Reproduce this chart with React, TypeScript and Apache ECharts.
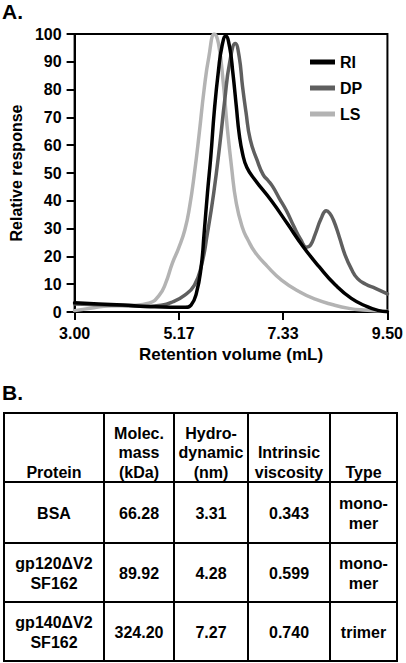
import React, { useEffect, useRef } from "react";
import * as echarts from "echarts";

// ---- Chart A data (retention volume in mL, relative response) ----
const riVolume = [3.0, 3.5, 4.0, 4.5, 5.0, 5.3, 5.42, 5.53, 5.63, 5.69, 5.76, 5.83, 5.905, 5.99, 6.06, 6.14, 6.22, 6.29, 6.36, 6.42, 6.49, 6.58, 6.75, 7.09, 7.42, 7.75, 8.08, 8.42, 8.75, 9.08, 9.3, 9.5];
const riResponse = [3.3, 2.9, 2.5, 2.0, 1.7, 1.7, 2.5, 6.7, 16.3, 28, 42.7, 55.9, 72.7, 87, 95.4, 99.3, 95.4, 85.8, 74, 64, 57, 52, 47.5, 40, 31.8, 23.5, 16.3, 9.7, 4.9, 1.9, 0.6, 0.1];

const dpVolume = [3.0, 3.5, 4.0, 4.5, 4.8, 5.03, 5.29, 5.49, 5.63, 5.76, 5.89, 6.02, 6.12, 6.22, 6.34, 6.42, 6.49, 6.56, 6.65, 6.79, 6.92, 7.02, 7.12, 7.25, 7.4, 7.55, 7.7, 7.82, 7.9, 8.0, 8.12, 8.23, 8.3, 8.38, 8.5, 8.62, 8.75, 8.88, 9.05, 9.25, 9.5];
const dpResponse = [2.9, 2.6, 2.3, 2.0, 2.4, 3.6, 6.1, 9.7, 16.3, 28.3, 42.7, 60.7, 76.3, 89.5, 96.6, 91.8, 81, 72, 62, 54.7, 49.3, 47.3, 45, 41, 36.5, 31, 26, 23.3, 24, 28, 33.5, 36.4, 35.5, 33, 27, 20.5, 15.5, 12, 10, 8.5, 6.5];

const lsVolume = [3.0, 3.4, 3.7, 4.2, 4.56, 4.76, 4.89, 5.03, 5.16, 5.29, 5.39, 5.49, 5.59, 5.69, 5.79, 5.905, 5.99, 6.09, 6.17, 6.26, 6.36, 6.49, 6.6, 6.75, 7.0, 7.3, 7.7, 8.0, 8.35, 8.7, 9.0, 9.5];
const lsResponse = [0.5, 1.5, 2.2, 2.4, 3.3, 6.1, 10.3, 17.5, 22.9, 29.5, 37.9, 49.9, 64.3, 79.9, 91.8, 100, 96.6, 82.3, 66.7, 52.3, 39.1, 30.2, 26, 21.5, 16.5, 11.5, 7, 4.6, 2.7, 1.3, 0.7, 0.3];

const xTickValues = [3, 5.17, 7.33, 9.5];
const seriesNames = ["RI", "DP", "LS"];

// ---- Table B data ----
const headerLabels = [["Protein"], ["Molec.", "mass", "(kDa)"], ["Hydro-", "dynamic", "(nm)"], ["Intrinsic", "viscosity"], ["Type"]];
const proteins = [["BSA"], ["gp120\u0394V2", "SF162"], ["gp140\u0394V2", "SF162"]];
const masses = ["66.28", "89.92", "324.20"];
const hydrodynamic = ["3.31", "4.28", "7.27"];
const viscosities = ["0.343", "0.599", "0.740"];
const types = [["mono-", "mer"], ["mono-", "mer"], ["trimer"]];

const FONT = '"Liberation Sans", Arial, Helvetica, sans-serif';

function pairs(xs: number[], ys: number[]) {
  return xs.map((x, i) => [x, ys[i]]);
}

export default function App() {
  const ref = useRef<HTMLDivElement>(null);
  useEffect(() => {
    document.body.style.margin = "0";
    const chart = echarts.init(ref.current!, null, { renderer: "svg" });

    const colX = [4, 104, 174, 248, 330, 397];
    const rowY = [413, 482, 543, 602, 661];
    const lh = 19.5;
    const graphics: any[] = [];
    const txt = (x: number, y: number, s: string, size = 16) => ({
      type: "text",
      x,
      y,
      style: { text: s, fontSize: size, fontWeight: "bold", fontFamily: FONT, fill: "#000", align: "center", verticalAlign: "middle" },
    });
    rowY.forEach((y) => {
      graphics.push({ type: "line", shape: { x1: colX[0] - 1, y1: y, x2: colX[colX.length - 1] + 1, y2: y }, style: { stroke: "#000", lineWidth: 2 } });
    });
    colX.forEach((x) => {
      graphics.push({ type: "line", shape: { x1: x, y1: rowY[0], x2: x, y2: rowY[rowY.length - 1] }, style: { stroke: "#000", lineWidth: 2 } });
    });
    headerLabels.forEach((lines, c) => {
      const cx = (colX[c] + colX[c + 1]) / 2;
      lines.forEach((s, i) => {
        graphics.push(txt(cx, 472 - (lines.length - 1 - i) * lh, s));
      });
    });
    const bodyCols = [proteins, masses.map((m) => [m]), hydrodynamic.map((m) => [m]), viscosities.map((m) => [m]), types];
    for (let r = 0; r < 3; r++) {
      const cy = (rowY[r + 1] + rowY[r + 2]) / 2 + 1;
      bodyCols.forEach((col, c) => {
        const cx = (colX[c] + colX[c + 1]) / 2;
        const lines = col[r];
        lines.forEach((s, i) => {
          graphics.push(txt(cx, cy + (i - (lines.length - 1) / 2) * lh, s));
        });
      });
    }
    graphics.push({ type: "text", x: 2, y: 11, style: { text: "A.", fontSize: 21, fontWeight: "bold", fontFamily: FONT, fill: "#000", align: "left", verticalAlign: "middle" } });
    graphics.push({ type: "text", x: 2, y: 392, style: { text: "B.", fontSize: 21, fontWeight: "bold", fontFamily: FONT, fill: "#000", align: "left", verticalAlign: "middle" } });

    const lineSeries = (name: string, data: number[][], color: string) => ({
      name,
      type: "line",
      data,
      showSymbol: false,
      smooth: 0.5,
      lineStyle: { width: 3.5, color, join: "round", cap: "round" },
      itemStyle: { color },
    });

    chart.setOption({
      animation: false,
      backgroundColor: "#fff",
      textStyle: { fontFamily: FONT },
      grid: { left: 65, right: 15, top: 34, bottom: 351, show: true, borderColor: "#000", borderWidth: 2, backgroundColor: "transparent" },
      legend: {
        data: seriesNames,
        orient: "vertical",
        left: 305,
        top: 48,
        icon: "rect",
        itemWidth: 25,
        itemHeight: 5,
        itemGap: 8,
        textStyle: { fontSize: 16, fontWeight: "bold", color: "#000", fontFamily: FONT, lineHeight: 18 },
      },
      xAxis: {
        type: "value",
        min: 3,
        max: 9.5,
        name: "Retention volume (mL)",
        nameLocation: "middle",
        nameGap: 34,
        nameTextStyle: { fontSize: 17, fontWeight: "bold", color: "#000", fontFamily: FONT },
        axisLine: { show: true, lineStyle: { color: "#000", width: 2 } },
        axisTick: { show: true, length: 8, lineStyle: { color: "#000", width: 2 }, customValues: xTickValues },
        axisLabel: { fontSize: 16, fontWeight: "bold", color: "#000", fontFamily: FONT, margin: 13, customValues: xTickValues, formatter: (v: number) => v.toFixed(2) },
        splitLine: { show: false },
      },
      yAxis: {
        type: "value",
        min: 0,
        max: 100,
        interval: 10,
        name: "Relative response",
        nameLocation: "middle",
        nameGap: 42,
        nameTextStyle: { fontSize: 16, fontWeight: "bold", color: "#000", fontFamily: FONT },
        axisLine: { show: true, lineStyle: { color: "#000", width: 2 } },
        axisTick: { show: true, length: 8, lineStyle: { color: "#000", width: 2 } },
        axisLabel: { fontSize: 16, fontWeight: "bold", color: "#000", fontFamily: FONT, margin: 13 },
        splitLine: { show: false },
      },
      series: [
        lineSeries("LS", pairs(lsVolume, lsResponse), "#b3b3b3"),
        lineSeries("DP", pairs(dpVolume, dpResponse), "#5f5f5f"),
        lineSeries("RI", pairs(riVolume, riResponse), "#000000"),
      ],
      graphic: graphics,
    });
    return () => chart.dispose();
  }, []);
  return <div ref={ref} style={{ width: 406, height: 663 }} />;
}
